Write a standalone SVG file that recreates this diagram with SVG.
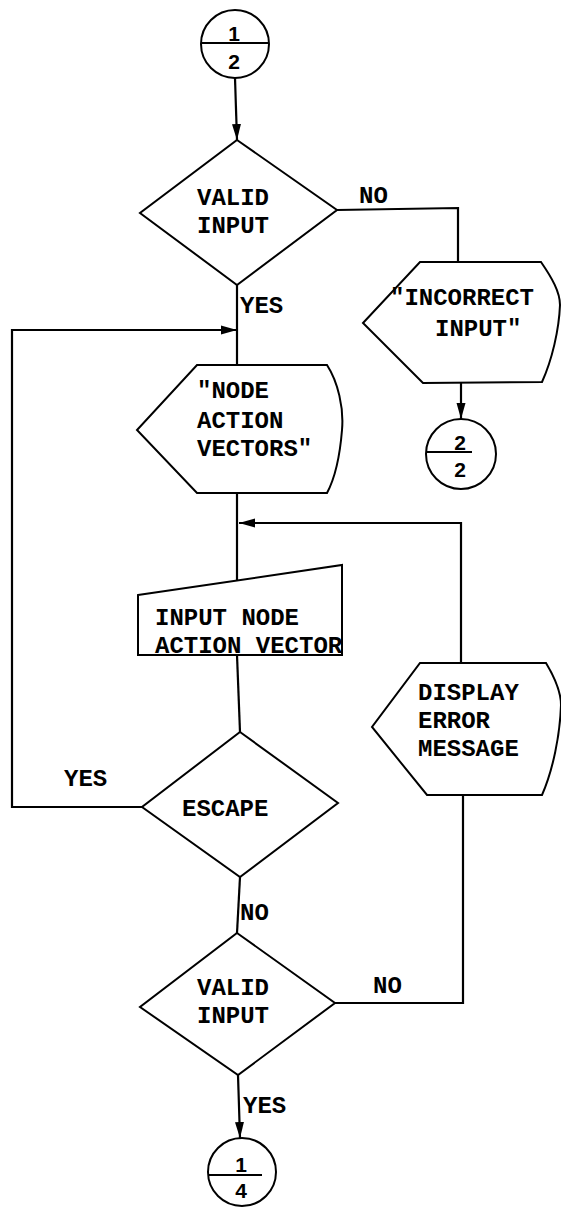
<svg xmlns="http://www.w3.org/2000/svg" width="561" height="1211" viewBox="0 0 561 1211">
  <defs>
    <marker id="arrow" viewBox="0 0 16 10" refX="16" refY="5" markerWidth="16" markerHeight="10" markerUnits="userSpaceOnUse" orient="auto">
      <path d="M0,0.5 L16,5 L0,9.5 Z" fill="#000"/>
    </marker>
  </defs>
  <style>
    .shape { fill: #fff; stroke: #000; stroke-width: 2; stroke-linejoin: miter; }
    .line { fill: none; stroke: #000; stroke-width: 2.2; }
    .t { font-family: "Liberation Mono", "DejaVu Sans Mono", monospace; font-size: 24px; font-weight: bold; fill: #000; }
    .d { font-family: "Liberation Sans", "DejaVu Sans", sans-serif; font-size: 21px; font-weight: bold; fill: #000; text-anchor: middle; }
  </style>
  <rect width="561" height="1211" fill="#fff"/>

  <!-- connectors -->
  <g id="connectors">
    <path class="line" d="M235,78 L237,140" marker-end="url(#arrow)"/>
    <path class="line" d="M337,210 L458,208 L458,262"/>
    <path class="line" d="M461,383 L461,419" marker-end="url(#arrow)"/>
    <path class="line" d="M237,285 L237,365"/>
    <path class="line" d="M142,807 L12,807 L12,330 L237,330" marker-end="url(#arrow)"/>
    <path class="line" d="M237,493 L237,581"/>
    <path class="line" d="M461,663 L461,523 L239,523" marker-end="url(#arrow)"/>
    <path class="line" d="M237,655 L240,732"/>
    <path class="line" d="M240,877 L237,933"/>
    <path class="line" d="M335,1003 L463,1003 L463,793"/>
    <path class="line" d="M238,1075 L240,1138" marker-end="url(#arrow)"/>
  </g>

  <!-- off-page connector 1/2 -->
  <g id="conn-top">
    <circle class="shape" cx="235" cy="44" r="34"/>
    <line class="line" x1="201" y1="43" x2="269" y2="43"/>
    <text class="d" x="234" y="41">1</text>
    <text class="d" x="234" y="69">2</text>
  </g>

  <!-- first input check -->
  <g id="valid-input-1">
    <polygon class="shape" points="237,140 337,210 237,285 140,213"/>
    <text class="t" x="197" y="205">VALID</text>
    <text class="t" x="197" y="233">INPUT</text>
  </g>
  <text class="t" x="359" y="203">NO</text>
  <text class="t" x="240" y="313">YES</text>

  <!-- display: incorrect input -->
  <g id="incorrect-input">
    <path class="shape" d="M420,262 L541,262 C552,278 560,292 560,305 C559,330 552,360 542,382 L423,383 L363,323 Z"/>
    <text class="t" x="390" y="305">"INCORRECT</text>
    <text class="t" x="435" y="336">INPUT"</text>
  </g>

  <!-- off-page connector 2/2 -->
  <g id="conn-2-2">
    <circle class="shape" cx="461" cy="454" r="35"/>
    <line class="line" x1="427" y1="452" x2="472" y2="452"/>
    <text class="d" x="460" y="450">2</text>
    <text class="d" x="460" y="477">2</text>
  </g>

  <!-- display: node action vectors -->
  <g id="node-action-vectors">
    <path class="shape" d="M197,365 L327,365 C338,382 344,408 342,430 C340,455 335,478 327,493 L197,493 L137,430 Z"/>
    <text class="t" x="197" y="398">"NODE</text>
    <text class="t" x="197" y="428">ACTION</text>
    <text class="t" x="197" y="456">VECTORS"</text>
  </g>

  <!-- manual input -->
  <g id="input-node-action-vector">
    <path class="shape" d="M138,595 L342,565 L342,655 L138,655 Z"/>
    <text class="t" x="155" y="625">INPUT NODE</text>
    <text class="t" x="155" y="653">ACTION VECTOR</text>
  </g>

  <!-- escape decision -->
  <g id="escape">
    <polygon class="shape" points="240,732 338,803 240,877 142,807"/>
    <text class="t" x="182" y="816">ESCAPE</text>
  </g>
  <text class="t" x="64" y="786">YES</text>
  <text class="t" x="240" y="920">NO</text>

  <!-- second input check -->
  <g id="valid-input-2">
    <polygon class="shape" points="237,933 335,1003 238,1075 140,1007"/>
    <text class="t" x="197" y="995">VALID</text>
    <text class="t" x="197" y="1023">INPUT</text>
  </g>
  <text class="t" x="373" y="993">NO</text>
  <text class="t" x="243" y="1113">YES</text>

  <!-- display: error message -->
  <g id="display-error">
    <path class="shape" d="M420,663 L546,663 C555,678 561,692 561,705 C560,735 553,770 542,795 L427,795 L372,727 Z"/>
    <text class="t" x="418" y="700">DISPLAY</text>
    <text class="t" x="418" y="728">ERROR</text>
    <text class="t" x="418" y="756">MESSAGE</text>
  </g>

  <!-- off-page connector 1/4 -->
  <g id="conn-1-4">
    <circle class="shape" cx="242" cy="1172" r="34"/>
    <line class="line" x1="208" y1="1175" x2="262" y2="1175"/>
    <text class="d" x="241" y="1172">1</text>
    <text class="d" x="241" y="1198">4</text>
  </g>
</svg>
